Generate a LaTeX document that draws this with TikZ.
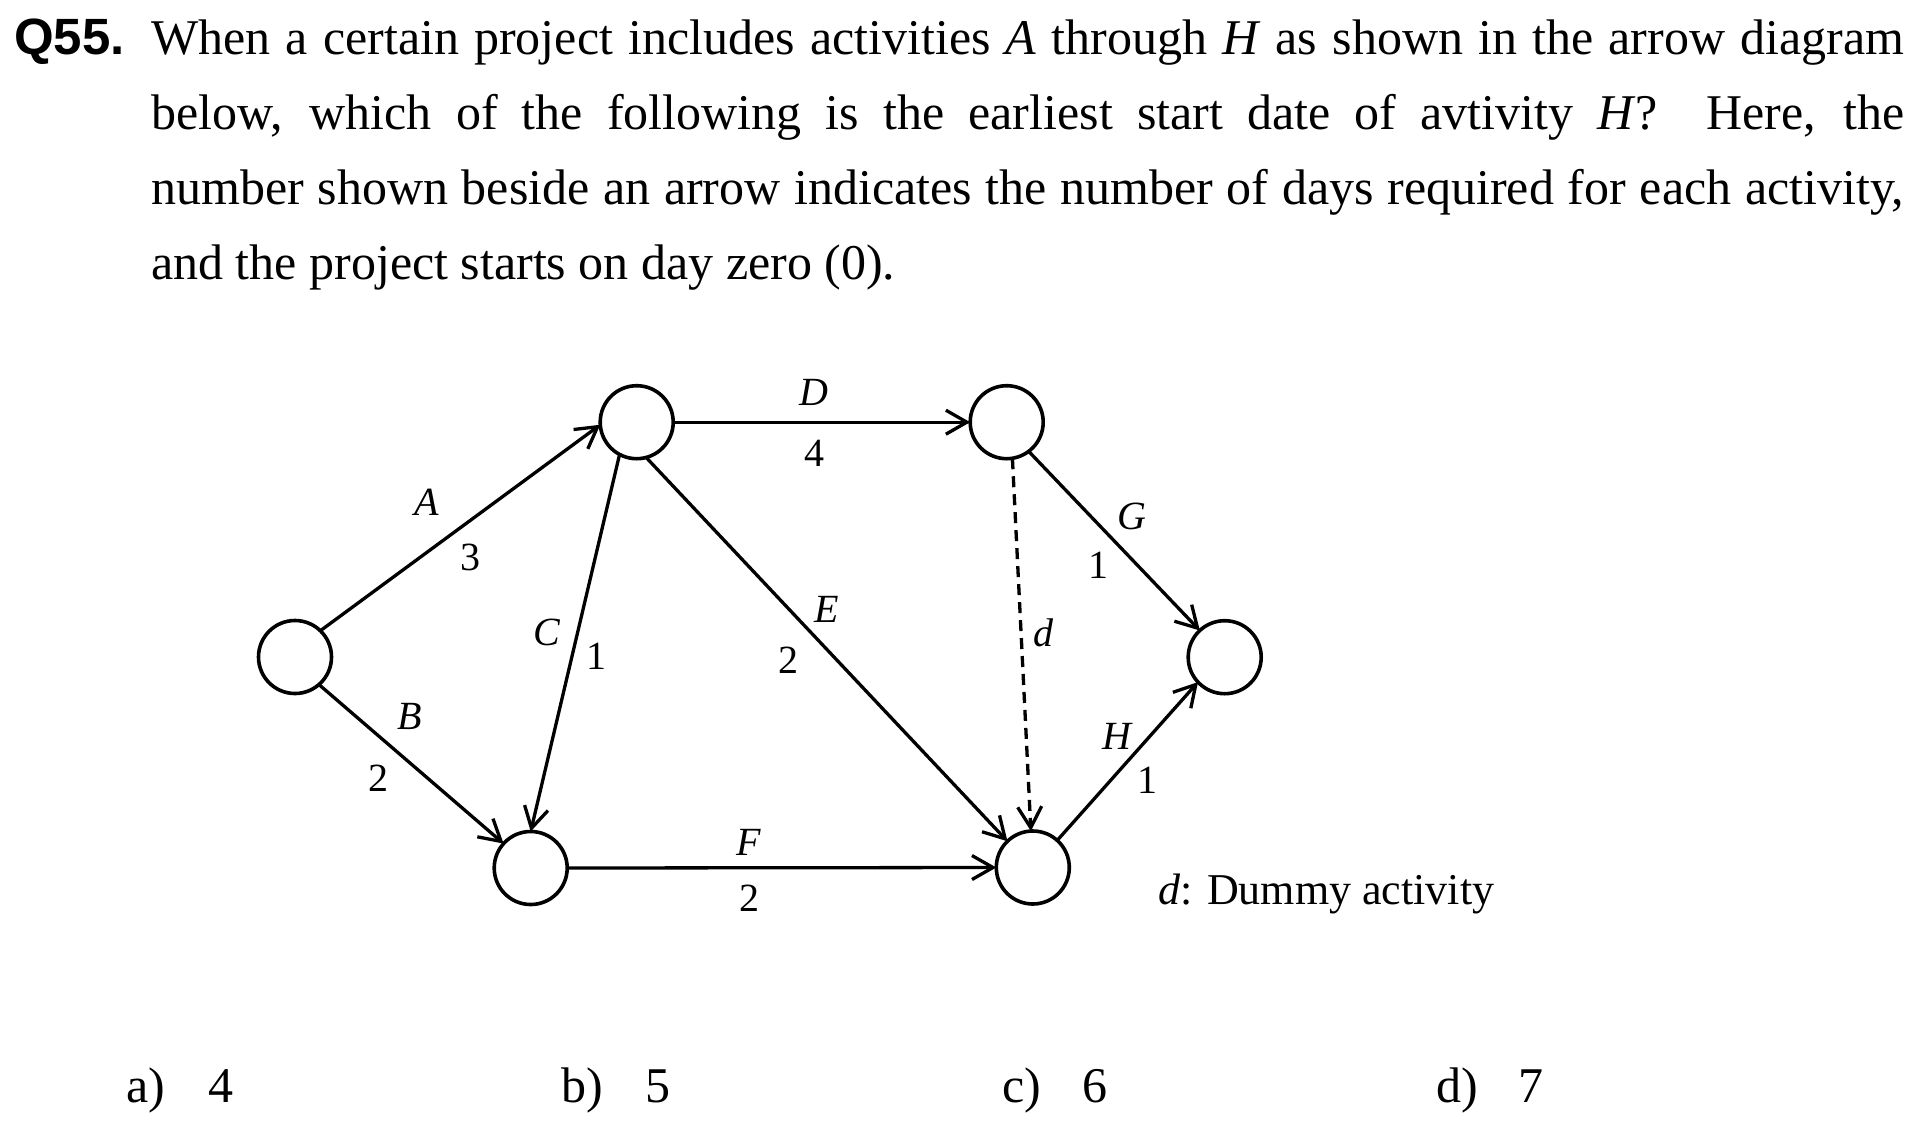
\documentclass[tikz,border=0pt]{standalone}
\usepackage{fontspec}
\setmainfont{Liberation Serif}
\newfontfamily\arialfont{Liberation Sans}
\usetikzlibrary{arrows.meta}
\begin{document}
\begin{tikzpicture}[x=1pt,y=-1pt,
  event/.style={circle, draw, line width=3.6pt, minimum size=73pt, inner sep=0pt, outer sep=0pt},
  act/.style={line width=3.3pt, -{Straight Barb[length=21pt,width=24pt]}},
  dummy/.style={act, dash pattern=on 11pt off 7pt},
  lbl/.style={font=\fontsize{40}{48}\selectfont\itshape, inner sep=0pt},
  num/.style={font=\fontsize{40}{48}\selectfont, inner sep=0pt},
  para/.style={font=\fontsize{50}{60}\selectfont, inner sep=0pt, anchor=base west},
  ans/.style={font=\fontsize{50}{60}\selectfont, inner sep=0pt, anchor=base west}]
\useasboundingbox (0,0) rectangle (1920,1128);
\fill[white] (0,0) rectangle (1920,1128);

% question text
\node[para, font=\fontsize{51}{60}\selectfont\arialfont\bfseries] (q) at (14,54) {Q55.};
\node[para] (l1) at (151,54) {\makebox[1753pt][s]{When a certain project includes activities \textit{A} through \textit{H} as shown in the arrow diagram}};
\node[para] (l2) at (151,129) {\makebox[1753pt][s]{below, which of the following is the earliest start date of avtivity \textit{H}?~~Here, the}};
\node[para] (l3) at (151,204) {\makebox[1753pt][s]{number shown beside an arrow indicates the number of days required for each activity,}};
\node[para] (l4) at (151,279) {and the project starts on day zero (0).};

% events
\node[event] (s)  at (295,657) {};
\node[event] (n2) at (636.7,422.2) {};
\node[event] (n3) at (530.7,868) {};
\node[event] (n4) at (1006.7,422.2) {};
\node[event] (n5) at (1032.8,867.5) {};
\node[event] (n6) at (1224.7,657.2) {};

% activities
\draw[act] (s.46) -- (n2.184);
\draw[act] (s.-49.5) -- (n3.138.7);
\draw[act] (n2.242.3) -- (n3.90);
\draw[act] (n2.east) -- (n4.west);
\draw[act] (n2.285.5) -- (n5.134.6);
\draw[act] (n3.east) -- (n5.west);
\draw[act] (n4.307.4) -- (n6.133);
\draw[act] (n5.48.7) -- (n6.223);
\draw[dummy] (n4.279.4) -- (n5.93);

% labels
\node[lbl] (la) at (427,502) {A};
\node[num] (va) at (470,557) {3};
\node[lbl] (lb) at (410,716) {B};
\node[num] (vb) at (378,778) {2};
\node[lbl] (lc) at (547,632) {C};
\node[num] (vc) at (596,656) {1};
\node[lbl] (ld) at (814,392) {D};
\node[num] (vd) at (814,453) {4};
\node[lbl] (le) at (827,609) {E};
\node[num] (ve) at (788,660) {2};
\node[lbl] (lf) at (749,842) {F};
\node[num] (vf) at (749,898) {2};
\node[lbl] (ldd) at (1043,633) {d};
\node[lbl] (lg) at (1132,516) {G};
\node[num] (vg) at (1098,565) {1};
\node[lbl] (lh) at (1117,736) {H};
\node[num] (vh) at (1147,780) {1};

\node[anchor=base west, inner sep=0pt, font=\fontsize{44}{52}\selectfont] (note) at (1158,904) {\textit{d}: Dummy activity};

% answers
\node[ans] (aa) at (126,1102) {a)};
\node[ans] (av) at (208,1102) {4};
\node[ans] (ba) at (561,1102) {b)};
\node[ans] (bv) at (645,1102) {5};
\node[ans] (ca) at (1002,1102) {c)};
\node[ans] (cv) at (1082,1102) {6};
\node[ans] (da) at (1436,1102) {d)};
\node[ans] (dv) at (1518,1102) {7};
\end{tikzpicture}
\end{document}
